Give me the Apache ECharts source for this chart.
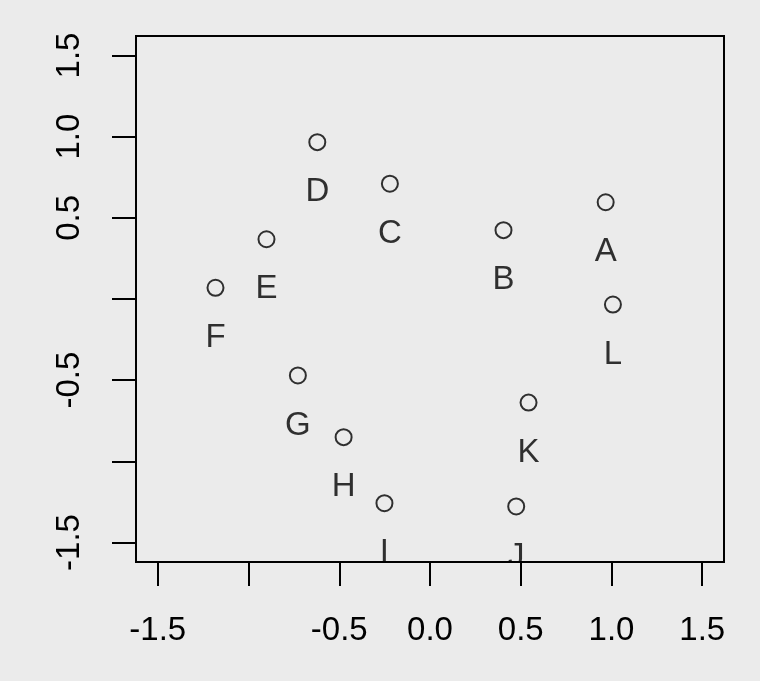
<!DOCTYPE html>
<html>
<head>
<meta charset="utf-8">
<script src="https://cdn.jsdelivr.net/npm/echarts@6/dist/echarts.min.js"></script>
<style>
html,body{margin:0;padding:0;background:#ebebeb;}
#chart{width:760px;height:681px;}
</style>
</head>
<body>
<div id="chart"></div>
<script>
// Point names and coordinates
var pointNames = ['A','B','C','D','E','F','G','H','I','J','K','L'];
var xValues = [0.968, 0.405, -0.221, -0.621, -0.901, -1.182, -0.728, -0.476, -0.251, 0.475, 0.543, 1.008];
var yValues = [0.596, 0.424, 0.710, 0.966, 0.368, 0.069, -0.471, -0.851, -1.258, -1.278, -0.638, -0.034];

// Axis ticks and labels
var xTicks = [-1.5, -1.0, -0.5, 0.0, 0.5, 1.0, 1.5];
var xTickLabels = [-1.5, -0.5, 0.0, 0.5, 1.0, 1.5];
var yTicks = [-1.5, -1.0, -0.5, 0.0, 0.5, 1.0, 1.5];
var yTickLabels = [-1.5, -0.5, 0.5, 1.0, 1.5];
var axisRange = [-1.62, 1.62];

var BG = '#ebebeb';
var FONT = '"Liberation Sans", Arial, Helvetica, sans-serif';

var data = pointNames.map(function (n, i) {
  return { name: n, value: [xValues[i], yValues[i]] };
});

var chart = echarts.init(document.getElementById('chart'), null, { renderer: 'canvas' });

function fmt(v) { return Number(v).toFixed(1); }

chart.setOption({
  backgroundColor: BG,
  animation: false,
  grid: {
    left: 136, top: 36, width: 588, height: 526,
    show: true, borderColor: '#000', borderWidth: 2,
    backgroundColor: 'transparent', z: 60
  },
  xAxis: {
    type: 'value', min: axisRange[0], max: axisRange[1], z: 60, position: 'bottom',
    axisLine: { show: false, onZero: false },
    splitLine: { show: false },
    axisTick: { show: true, customValues: xTicks, length: 24, inside: false,
      lineStyle: { color: '#000', width: 2 } },
    axisLabel: { show: true, customValues: xTickLabels, formatter: fmt,
      margin: 52, fontSize: 33, color: '#000', fontFamily: FONT }
  },
  yAxis: {
    type: 'value', min: axisRange[0], max: axisRange[1], z: 60, position: 'left',
    axisLine: { show: false, onZero: false },
    splitLine: { show: false },
    axisTick: { show: true, customValues: yTicks, length: 24, inside: false,
      lineStyle: { color: '#000', width: 2 } },
    axisLabel: { show: true, customValues: yTickLabels, formatter: fmt, rotate: 90,
      margin: 50, fontSize: 33, color: '#000', fontFamily: FONT }
  },
  graphic: [{
    type: 'rect', z: 50, silent: true,
    shape: { x: 0, y: 563, width: 760, height: 118 },
    style: { fill: BG }
  }],
  series: [{
    type: 'scatter',
    data: data,
    symbol: 'circle',
    symbolSize: 16,
    z: 2,
    itemStyle: { color: 'rgba(0,0,0,0)', borderColor: '#000', borderWidth: 2 },
    label: {
      show: true, formatter: '{b}', position: 'inside', offset: [0, 50],
      fontSize: 33, color: '#000', fontFamily: FONT
    },
    emphasis: { disabled: true }
  }]
});
</script>
</body>
</html>
